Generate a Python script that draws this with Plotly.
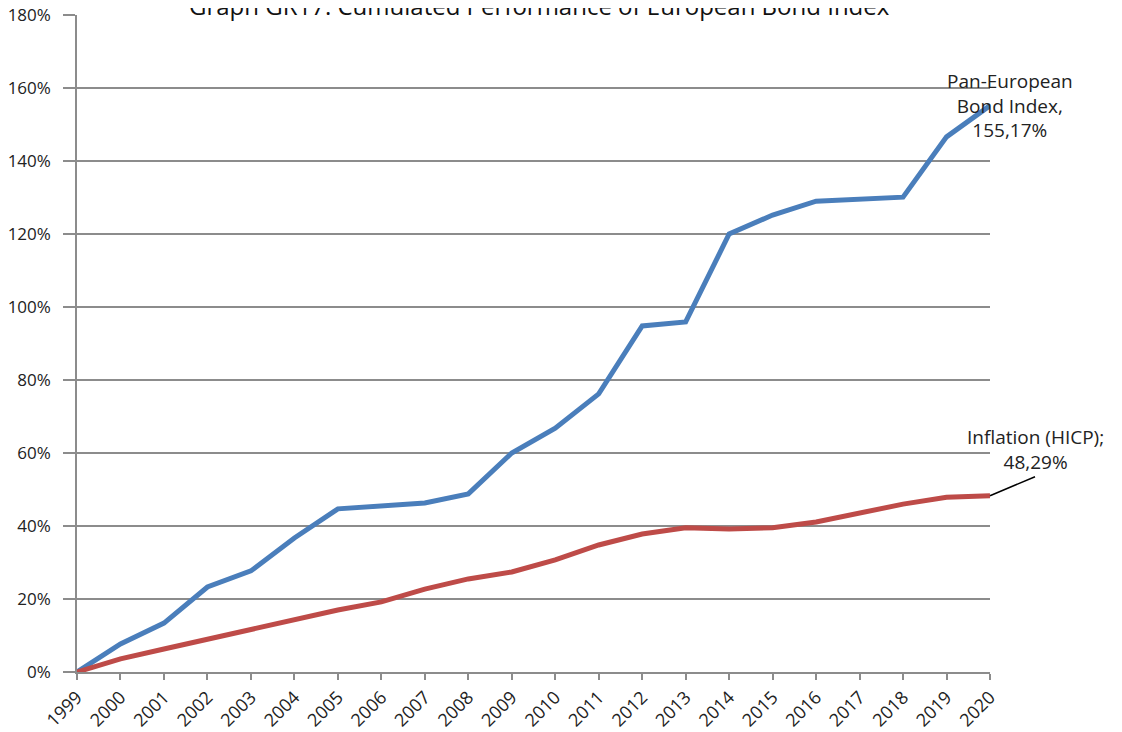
import plotly.graph_objects as go

years = list(range(1999, 2021))

# cumulated performance in %
bond_index = [0, 7.7, 13.4, 23.3, 27.7, 36.7, 44.7, 45.5, 46.3, 48.8, 60.0,
              66.8, 76.2, 94.8, 95.9, 120.0, 125.2, 129.0, 129.6, 130.1, 146.6, 155.17]
inflation = [0, 3.6, 6.3, 9.0, 11.5, 14.2, 17.0, 19.2, 22.7, 25.5, 27.4,
             30.7, 34.8, 37.8, 39.5, 39.2, 39.5, 41.1, 43.6, 46.0, 47.9, 48.29]

y_ticks = list(range(0, 181, 20))
y_labels = [f"{v}%" for v in y_ticks]

font_family = "Open Sans, Noto Sans, sans-serif"
grid = "#8c8c8c"

fig = go.Figure()
fig.add_trace(go.Scatter(x=years, y=bond_index, mode="lines", name="Pan-European Bond Index",
                         line=dict(color="#4a7ebb", width=5)))
fig.add_trace(go.Scatter(x=years, y=inflation, mode="lines", name="Inflation (HICP)",
                         line=dict(color="#be4b48", width=5)))

# data labels at the last point
fig.add_annotation(x=years[-1], y=bond_index[-1], text="Pan-European<br>Bond Index,<br>155,17%",
                   showarrow=False, xshift=20, yshift=0, yanchor="middle",
                   font=dict(size=19, color="#222"), align="center")
fig.add_annotation(x=years[-1], y=inflation[-1], text="Inflation (HICP);<br>48,29%",
                   showarrow=True, arrowhead=0, arrowwidth=1.5, arrowcolor="black",
                   ax=45, ay=-19, xanchor="center", yanchor="bottom",
                   font=dict(size=19, color="#222"), align="center", standoff=0)

# title, mostly cut off by the top edge as in the source
fig.add_annotation(xref="paper", yref="paper", x=0.507, y=1, yanchor="bottom", yshift=-9,
                   text="Graph GR17: Cumulated Performance of European Bond Index",
                   showarrow=False, font=dict(size=24, color="#111"))

# page body has an 8px margin, so the figure is sized to fit the 1122x732 window
fig.update_layout(
    width=1114, height=724,
    margin=dict(l=69, r=132, t=7, b=60, autoexpand=False),
    paper_bgcolor="white", plot_bgcolor="white",
    showlegend=False,
    font=dict(family=font_family, size=19, color="#222"),
)
fig.update_xaxes(range=[1999, 2020], tickvals=years, ticktext=[str(y) for y in years],
                 tickangle=-45, ticks="outside", ticklen=6, tickcolor=grid, tickwidth=1.5,
                 showline=True, linecolor=grid, linewidth=1.5, showgrid=False, zeroline=False,
                 tickfont=dict(size=18), automargin=False, ticklabeloverflow="allow")
fig.update_yaxes(range=[0, 180], tickvals=y_ticks, ticktext=y_labels,
                 ticks="outside", ticklen=12, tickcolor=grid, tickwidth=1.5, ticklabelstandoff=9,
                 showline=True, linecolor=grid, linewidth=1.5,
                 showgrid=True, gridcolor=grid, gridwidth=1.5, zeroline=False,
                 tickfont=dict(size=17), automargin=False, ticklabeloverflow="allow")

fig.write_html("out.html")
